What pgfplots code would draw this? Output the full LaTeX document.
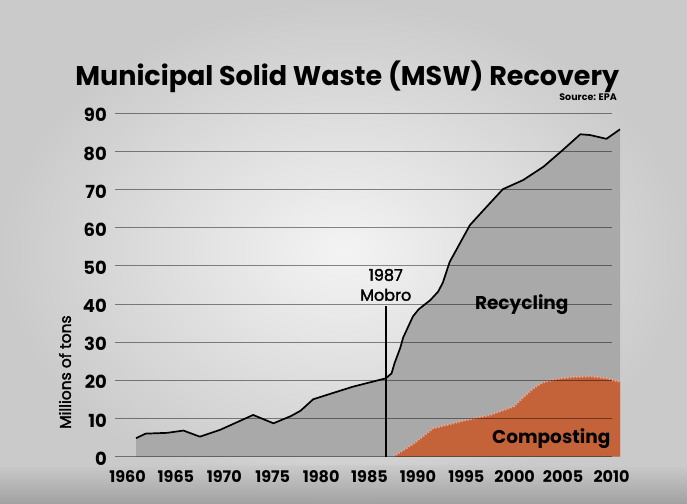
\documentclass[border=0pt]{standalone}
\usepackage{fontspec}
\setmainfont{Poppins}
\newfontfamily\pmed[FakeBold=2]{Poppins}
\usepackage{pgfplots}
\usepackage{pgfplotstable}
\pgfplotsset{compat=1.18}
\definecolor{bgc}{HTML}{E8E8E8}
\definecolor{bge}{HTML}{CACACA}
\definecolor{areac}{HTML}{A9A9A9}
\definecolor{comp}{HTML}{C4623A}
\definecolor{dotc}{HTML}{EBA58F}

\pgfplotstableread{
year val
1960.0 4.8
1961.0 6.0
1963.2 6.2
1964.9 6.8
1966.6 5.2
1968.7 7.0
1972.1 10.9
1974.2 8.7
1976.0 10.6
1977.0 12.0
1978.3 15.0
1980.4 16.7
1982.4 18.3
1985.8 20.5
1986.4 21.8
1986.7 24.4
1987.3 28.5
1987.6 31.2
1988.6 36.7
1989.2 38.6
1990.4 41.0
1991.2 43.2
1991.7 45.6
1992.4 51.0
1994.5 60.7
1995.9 64.6
1997.9 70.1
2000.0 72.5
2002.1 76.0
2004.1 80.4
2005.9 84.5
2006.9 84.3
2008.6 83.3
2010.0 85.8
}\recycling

\pgfplotstableread{
year val
1986.6 0
1988.8 3.6
1990.7 7.4
1994.2 9.6
1996.6 10.9
1999.0 13.1
2000.0 15.5
2001.0 17.8
2002.0 19.4
2003.5 20.4
2005.0 20.8
2007.0 21.0
2008.6 20.5
2010.0 19.6
}\compost

\begin{document}
\begin{tikzpicture}
\fill[bge] (0pt,0pt) rectangle (687pt,503pt);
\shade[inner color=bgc!50!white, outer color=bge] (0pt,0pt) rectangle (687pt,503pt);
\shade[top color=bge, bottom color=black!40, opacity=0.8] (0pt,0pt) rectangle (687pt,38pt);
\begin{axis}[
  at={(115pt,46.5pt)}, anchor=south west,
  scale only axis, width=505pt, height=343.2pt,
  xmin=1957.83, xmax=2010, ymin=0, ymax=90,
  clip=false,
  axis line style={draw=none},
  major tick length=0pt,
  xtick={1960,1965,...,2010},
  ytick={0,10,...,90},
  /pgf/number format/assume math mode=true,
  xticklabel={\pgfmathprintnumber[1000 sep={}]{\tick}},
  xticklabel style={font=\bfseries\fontsize{16}{16}\selectfont, anchor=center, xshift=-8.5pt, yshift=-20.5pt, inner sep=0pt},
  yticklabel style={font=\bfseries\fontsize{18}{18}\selectfont, anchor=east, xshift=-8pt, yshift=-2pt, inner sep=0pt},
  ylabel={Millions of tons},
  ylabel style={font=\pmed\fontsize{15.5}{15.5}\selectfont, at={(axis description cs:-0.099,0.246)}, anchor=center, rotate=0},
  title={Municipal Solid Waste (MSW) Recovery},
  title style={font=\bfseries\fontsize{27}{27}\selectfont, at={(axis description cs:0.46,1.09)}, anchor=center},
]
\addplot[fill=areac, draw=none] table[x=year,y=val] {\recycling} \closedcycle;
\addplot[black, line width=1.7pt, line join=round] table[x=year,y=val] {\recycling};
\addplot[fill=comp, draw=none] table[x=year,y=val] {\compost} \closedcycle;
\addplot[dotc, line width=2pt, dash pattern=on 1.4pt off 1.6pt] table[x=year,y=val] {\compost};
\pgfplotsinvokeforeach{0,10,...,90}{
  \draw[black, opacity=0.45, line width=0.8pt] (axis cs:1957.83,#1) -- (axis cs:2009.2,#1);
}
\draw[black, line width=1.5pt] (axis cs:1985.8,0) -- (axis cs:1985.8,39.4);
\node[font=\pmed\fontsize{16}{20}\selectfont, align=center] at (axis cs:1985.8,45.0) {1987\\Mobro};
\node[font=\bfseries\fontsize{18.5}{18.5}\selectfont] at (axis cs:1999.85,39.7) {Recycling};
\node[font=\bfseries\fontsize{18.5}{18.5}\selectfont] at (axis cs:2002.9,4.8) {Composting};
\end{axis}
\node[font=\bfseries\fontsize{9.5}{9.5}\selectfont, anchor=east, inner sep=0pt] at (617pt,406pt) {Source: EPA};
\end{tikzpicture}
\end{document}
